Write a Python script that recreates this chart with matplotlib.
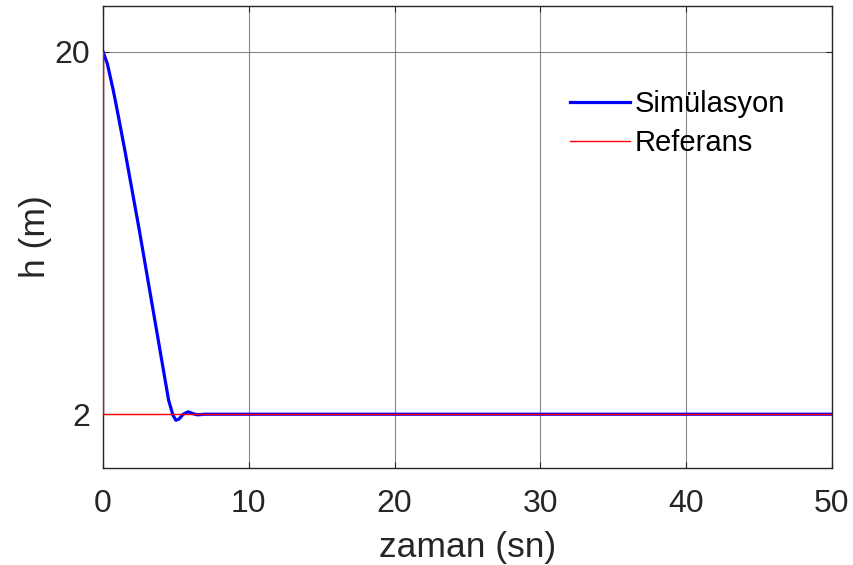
import matplotlib.pyplot as plt

# Simulated altitude response (read at a few time instants)
t_sim = [0, 0.3, 0.7, 1.0, 1.5, 2.0, 2.5, 3.0, 3.5, 4.0, 4.5, 4.8, 5.0, 5.2,
         5.5, 5.85, 6.2, 6.5, 7.0, 50]
h_sim = [20, 19.4, 18.1, 17.0, 15.1, 13.1, 11.1, 9.0, 6.9, 4.8, 2.7, 1.95,
         1.7, 1.75, 2.0, 2.12, 2.02, 1.97, 2.0, 2.0]

# Reference step: 20 m -> 2 m at t = 0
t_ref = [0, 0, 50]
h_ref = [20, 2, 2]

plt.rcParams['font.family'] = ['Liberation Sans', 'DejaVu Sans']

fig = plt.figure(figsize=(8.54, 5.65), dpi=100)
ax = fig.add_axes([0.1206, 0.1717, 0.8536, 0.8177])

ax.plot(t_sim, h_sim, color='blue', lw=2.3, label='Simülasyon', zorder=3)
ax.plot(t_ref, h_ref, color='red', lw=1.0, label='Referans', zorder=4)

ax.set_xlim(0, 50)
ax.set_ylim(-0.67, 22.27)
ax.set_xticks([0, 10, 20, 30, 40, 50])
ax.set_yticks([2, 20])
ax.tick_params(direction='in', length=4, width=0.8, labelsize=23,
               colors='#262626', top=True, right=True)
ax.tick_params(axis='x', pad=15)
ax.tick_params(axis='y', pad=9)
ax.grid(True, color='#6a6a6a', lw=0.8, alpha=0.8)
for s in ax.spines.values():
    s.set_color('#262626')
    s.set_linewidth(1.0)

ax.set_xlabel('zaman (sn)', fontsize=25.5, color='#262626', labelpad=9)
ax.set_ylabel('h (m)', fontsize=25.5, color='#262626', labelpad=2)

ax.legend(loc='upper left', bbox_to_anchor=(0.625, 0.844), frameon=False,
          fontsize=21, handlelength=2.05, handletextpad=0.15,
          labelspacing=0.4, borderaxespad=0)

fig.savefig('out.png', dpi=100)
